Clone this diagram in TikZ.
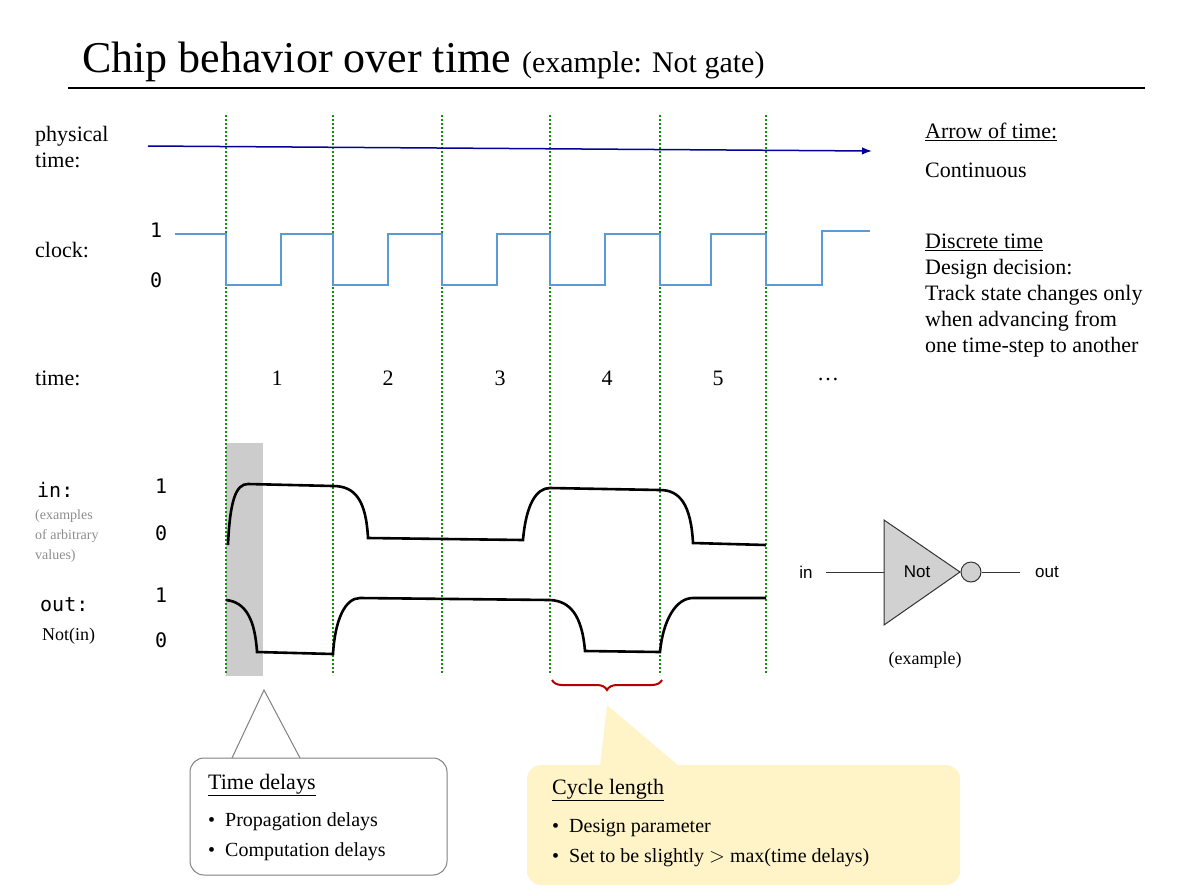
\documentclass[tikz,border=0pt]{standalone}
\usepackage{fontspec}
\setmainfont{Liberation Serif}
\newfontfamily\monofont{DejaVu Sans Mono}
\newfontfamily\gatefont{Liberation Sans}
\usetikzlibrary{positioning,decorations.pathreplacing,arrows.meta}
\definecolor{clockblue}{RGB}{91,155,213}
\definecolor{gridgreen}{RGB}{20,140,20}
\definecolor{calloutyellow}{RGB}{255,243,200}
\tikzset{
    txt/.style={anchor=west, inner sep=0pt, font=\fontsize{22}{26}\selectfont},
    mono/.style={anchor=west, inner sep=0pt, font=\monofont\fontsize{20}{24}\selectfont},
    wave/.style={line width=2.6pt},
    grid/.style={gridgreen, dotted, line width=2pt},
    bullet/.style={anchor=west, inner sep=0pt, font=\fontsize{20}{24}\selectfont, align=left},
}
\begin{document}
\begin{tikzpicture}[x=1pt,y=-1pt]
    \useasboundingbox (0,0) rectangle (1200,895);

    % title
    \node[anchor=base west, inner sep=0pt] (TITLE) at (82,72)
    {\fontsize{44}{50}\selectfont Chip behavior over time
      {\fontsize{30}{34}\selectfont (example: Not gate)}};
    \draw[line width=1.5pt] (68,88) -- (1145,88);

    % shaded delay area
    \fill[black!20] (226,443) rectangle (263,676);

    % time-step boundaries
    \foreach \x in {226,333,442,550,660,766}
      \draw[grid] (\x,115) -- (\x,675);

    % labels on the left
    \node[txt, anchor=north west, align=left] (PHYS) at (35,126) {physical\\time:};
    \node[txt] (CLK) at (35,250) {clock:};
    \node[txt] (TIME) at (35,378) {time:};
    \node[mono] (IN) at (37,490) {in:};
    \node[anchor=north west, inner sep=0pt, align=left, text=black!45,
      font=\fontsize{14}{20}\selectfont] (EX) at (35,510)
      {(examples\\of arbitrary\\values)};
    \node[mono] (OUT) at (40,605) {out:};
    \node[anchor=west, inner sep=0pt, font=\fontsize{18}{22}\selectfont] (NOTIN) at (42,636) {Not(in)};

    \node[mono] (C1) at (150,230) {1};
    \node[mono] (C0) at (150,280) {0};
    \node[mono] (I1) at (155,486) {1};
    \node[mono] (I0) at (155,533) {0};
    \node[mono] (O1) at (155,595) {1};
    \node[mono] (O0) at (155,640) {0};

    % physical time arrow
    \coordinate (TSTART) at (148,146);
    \coordinate (TEND) at (872,151);
    \draw[blue!60!black, line width=1.5pt, -{Latex[length=10pt]}] (TSTART) -- (TEND);

    % clock
    \draw[clockblue, line width=1.5pt]
      (175,234) -- (226,234) -- (226,285) -- (281,285) -- (281,234)
      -- (333,234) -- (333,285) -- (388,285) -- (388,234)
      -- (442,234) -- (442,285) -- (497,285) -- (497,234)
      -- (550,234) -- (550,285) -- (605,285) -- (605,234)
      -- (660,234) -- (660,285) -- (711,285) -- (711,234)
      -- (766,234) -- (766,285) -- (822,285) -- (822,231) -- (870,231);

    % time step numbers
    \foreach \x/\n in {277/1,388/2,500/3,607/4,718/5}
      \node[font=\fontsize{22}{26}\selectfont, inner sep=0pt] (T\n) at (\x,378) {\n};
    \node[font=\fontsize{22}{26}\selectfont, inner sep=0pt] (TDOTS) at (828,380) {\dots};

    % input
    \draw[wave]
      (228,545) .. controls (230,500) and (236,484) .. (248,484)
      -- (333,486) .. controls (355,486) and (366,500) .. (368,538)
      -- (523,540) .. controls (526,505) and (536,488) .. (550,488)
      -- (660,490) .. controls (680,490) and (691,505) .. (693,543)
      -- (766,545);

    % output
    \draw[wave]
      (226,600) .. controls (246,602) and (255,620) .. (257,652)
      -- (333,654) .. controls (335,620) and (345,598) .. (360,598)
      -- (550,600) .. controls (570,601) and (582,615) .. (585,651)
      -- (660,652) .. controls (663,620) and (676,598) .. (693,598)
      -- (766,598);

    % cycle brace
    \draw[red!70!black, line width=2pt, decorate,
      decoration={brace, mirror, amplitude=10pt}] (552,680) -- (662,680);

    % right side notes
    \node[txt] (AOT) at (925,132) {\underline{Arrow of time:}};
    \node[txt] (CONT) at (925,170) {Continuous};
    \node[txt, anchor=north west, align=left] (DISC) at (925,234)
      {\underline{Discrete time}\\Design decision:\\Track state changes only\\
       when advancing from\\one time-step to another};

    % Not gate
    \fill[black!18] (884,520) -- (960,572) -- (884,625) -- cycle;
    \draw[black!80, line width=1pt] (884,520) -- (960,572) -- (884,625) -- cycle;
    \node[font=\gatefont\fontsize{17}{20}\selectfont] (GATE) at (917,572) {Not};
    \node[circle, draw=black!80, fill=black!18, line width=1pt, minimum size=20pt,
      inner sep=0pt] (BUBBLE) at (971,572) {};
    \node[font=\gatefont\fontsize{17}{20}\selectfont, inner sep=0pt] (GIN) at (806,572) {in};
    \node[font=\gatefont\fontsize{17}{20}\selectfont, inner sep=0pt] (GOUT) at (1047,572) {out};
    \coordinate (GLEFT) at (884,572);
    \draw[black!80, line width=1pt] (826,572) -- (GLEFT);
    \draw[black!80, line width=1pt] (BUBBLE) -- (1020,572);
    \node[font=\fontsize{18}{22}\selectfont] (GEX) at (925,660) {(example)};

    % callout: time delays
    \draw[black!50, fill=white, line width=1pt, rounded corners=14pt]
      (190,758) rectangle (447,875);
    \fill[white] (232,756) -- (264,690) -- (300,756) -- cycle;
    \draw[black!50, line width=1pt] (232,758) -- (264,690) -- (300,758);
    \node[txt] (TD) at (208,785) {\underline{Time delays}};
    \node[bullet] (TDB) at (208,837)
      {\textbullet\ \ Propagation delays\\[6pt]\textbullet\ \ Computation delays};

    % callout: cycle length
    \fill[calloutyellow, rounded corners=14pt] (527,765) rectangle (960,885);
    \fill[calloutyellow] (600,767) -- (607,705) -- (680,767) -- cycle;
    \node[txt] (CL) at (552,790) {\underline{Cycle length}};
    \node[bullet] (CLB) at (552,843)
      {\textbullet\ \ Design parameter\\[6pt]\textbullet\ \ Set to be slightly $>$ max(time delays)};

\end{tikzpicture}
\end{document}
